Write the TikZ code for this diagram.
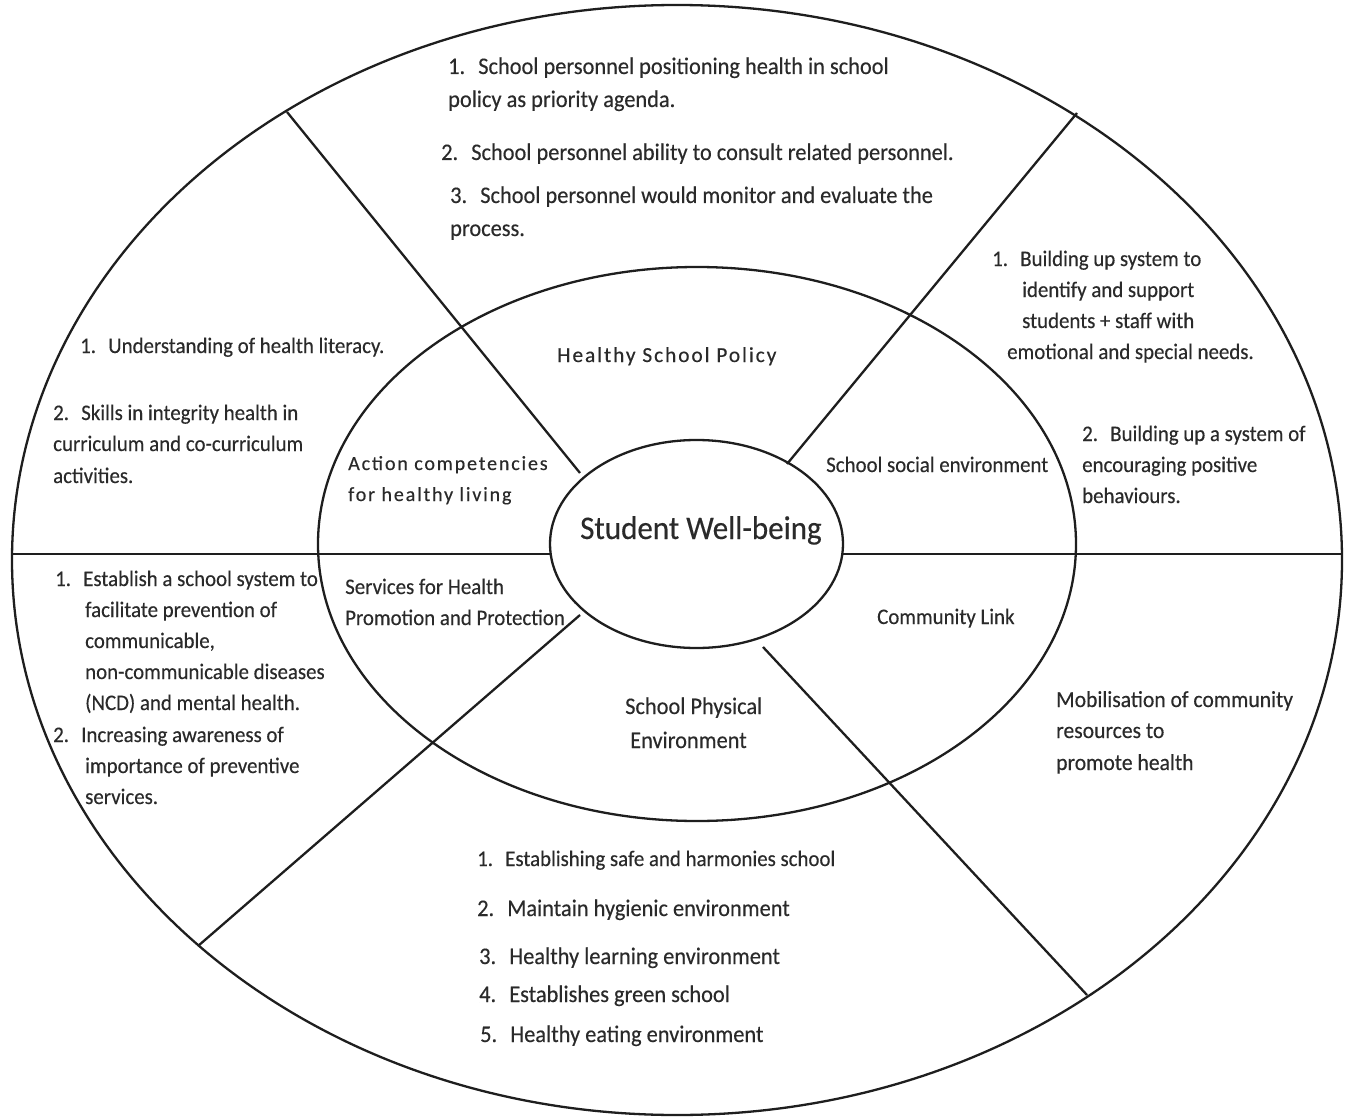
\documentclass[tikz,border=0pt]{standalone}
\usepackage{fontspec}
\setmainfont{Carlito}[FakeStretch=0.94,FakeBold=0.3]
\newfontfamily\widef{Carlito}[LetterSpace=9,FakeBold=0.3]
\definecolor{txtgray}{HTML}{2A2A2A}
\definecolor{lngray}{HTML}{1E1E1E}
\newcommand{\gp}{\hspace{0.55em}}
\begin{document}
\begin{tikzpicture}[x=1pt,y=-1pt,
  ln/.style={line width=2.3pt, draw=lngray},
  tx/.style={anchor=base west, inner sep=0pt, text=txtgray, font=\fontsize{22.2}{26}\selectfont},
  txm/.style={anchor=base west, inner sep=0pt, text=txtgray, font=\fontsize{23}{27}\selectfont},
  txl/.style={anchor=base west, inner sep=0pt, text=txtgray, font=\fontsize{23.8}{28}\selectfont},
  wtx/.style={anchor=base west, inner sep=0pt, text=txtgray, font=\widef\fontsize{20.1}{24}\selectfont},
  wtxl/.style={anchor=base west, inner sep=0pt, text=txtgray, font=\widef\fontsize{21.4}{25}\selectfont},
  big/.style={anchor=base west, inner sep=0pt, text=txtgray, font=\fontsize{33}{40}\selectfont}]
\useasboundingbox (0,0) rectangle (1347,1118);
\fill[white] (0,0) rectangle (1347,1118);
% ellipses
\draw[ln] (677,560) ellipse [x radius=665, y radius=555];
\draw[ln] (697,544) ellipse [x radius=379, y radius=277];
\draw[ln] (696.5,544) ellipse [x radius=146.5, y radius=104];
% divider end points
\coordinate (hl1) at (12,554);  \coordinate (hl2) at (550,554);
\coordinate (hr1) at (843,554); \coordinate (hr2) at (1342,554);
\coordinate (ul1) at (287,112); \coordinate (ul2) at (580,473);
\coordinate (ur1) at (1077,113); \coordinate (ur2) at (787,464);
\coordinate (ll1) at (580,615); \coordinate (ll2) at (198,946);
\coordinate (lr1) at (763,647); \coordinate (lr2) at (1087,995);
\draw[ln] (hl1) -- (hl2);
\draw[ln] (hr1) -- (hr2);
\draw[ln] (ul1) -- (ul2);
\draw[ln] (ur1) -- (ur2);
\draw[ln] (ll1) -- (ll2);
\draw[ln] (lr1) -- (lr2);
% center
\node[big] (sw) at (580,539) {Student Well-being};
% top sector
\node[txl] (p1a) at (448,74) {1.\gp School personnel positioning health in school};
\node[txl] (p1b) at (448,107) {policy as priority agenda.};
\node[txl] (p2) at (441,160) {2.\gp School personnel ability to consult related personnel.};
\node[txl] (p3a) at (450,203) {3.\gp School personnel would monitor and evaluate the};
\node[txl] (p3b) at (450,236) {process.};
% upper left
\node[tx] (a1) at (80,353) {1.\gp Understanding of health literacy.};
\node[tx] (a2a) at (53,420) {2.\gp Skills in integrity health in};
\node[tx] (a2b) at (53,451) {curriculum and co-curriculum};
\node[tx] (a2c) at (53,483) {activities.};
% upper right
\node[tx] (s1a) at (992,266) {1.\gp Building up system to};
\node[tx] (s1b) at (1022,297) {identify and support};
\node[tx] (s1c) at (1022,328) {students + staff with};
\node[tx] (s1d) at (1007,359) {emotional and special needs.};
\node[tx] (s2a) at (1082,441) {2.\gp Building up a system of};
\node[tx] (s2b) at (1082,472) {encouraging positive};
\node[tx] (s2c) at (1082,503) {behaviours.};
% middle ring
\node[wtxl] (hsp) at (557,362) {Healthy School Policy};
\node[wtx] (acl1) at (348,470) {Action competencies};
\node[wtx] (acl2) at (348,501) {for healthy living};
\node[tx] (sse) at (826,472) {School social environment};
\node[tx] (shp1) at (345,594) {Services for Health};
\node[tx] (shp2) at (345,625) {Promotion and Protection};
\node[tx] (cl) at (877,624) {Community Link};
\node[txl] (spe1) at (625,714) {School Physical};
\node[txl] (spe2) at (630,748) {Environment};
% lower left
\node[tx] (h1a) at (55,586) {1.\gp Establish a school system to};
\node[tx] (h1b) at (85,617) {facilitate prevention of};
\node[tx] (h1c) at (85,648) {communicable,};
\node[tx] (h1d) at (85,679) {non-communicable diseases};
\node[tx] (h1e) at (85,710) {(NCD) and mental health.};
\node[tx] (h2a) at (53,742) {2.\gp Increasing awareness of};
\node[tx] (h2b) at (85,773) {importance of preventive};
\node[tx] (h2c) at (85,804) {services.};
% lower right
\node[txm] (m1) at (1056,707) {Mobilisation of community};
\node[txm] (m2) at (1056,738) {resources to};
\node[txm] (m3) at (1056,770) {promote health};
% bottom
\node[tx] (e1) at (477,866) {1.\gp Establishing safe and harmonies school};
\node[txl] (e2) at (477,916) {2.\gp Maintain hygienic environment};
\node[txl] (e3) at (479,964) {3.\gp Healthy learning environment};
\node[txl] (e4) at (479,1002) {4.\gp Establishes green school};
\node[txl] (e5) at (480,1042) {5.\gp Healthy eating environment};
\end{tikzpicture}
\end{document}
